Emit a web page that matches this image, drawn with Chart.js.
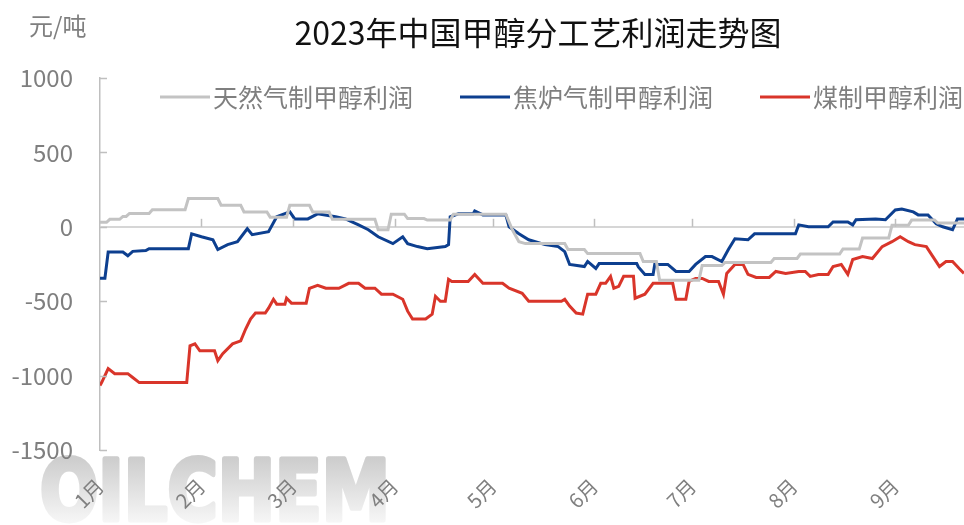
<!DOCTYPE html>
<html>
<head>
<meta charset="utf-8">
<script src="https://cdn.jsdelivr.net/npm/chart.js@4"></script>
<style>
  html, body { margin:0; padding:0; background:#fff; }
  #wrap { width:964px; height:525px; position:relative; }
</style>
</head>
<body>
<div id="wrap"><canvas id="profitChart"></canvas></div>
<script>
const MONTH_LABELS = ['1月','2月','3月','4月','5月','6月','7月','8月','9月'];
const MONTH_STARTS = [0,31,59,90,120,151,181,212,243];   // day index of each month start
const Y_TICKS = [1000,500,0,-500,-1000,-1500];

// 天然气制甲醇利润
const GAS_DAYS = [0,2,3,6,7,8,9,15,16,26,27,36,37,43,44,51,52,57,58,64,65,70,71,84,85,88,89,93,94,99,100,107,108,124,126,128,130,142,143,148,149,165,166,170,171,183,184,190,191,205,206,213,214,226,227,232,233,241,242,247,248,255,256,264];
const GAS_PROFIT = [30,30,50,50,70,70,90,90,115,115,190,190,145,145,100,100,65,65,145,145,100,100,50,50,-20,-20,85,85,55,55,45,45,85,85,-20,-100,-113,-113,-153,-153,-180,-180,-233,-233,-360,-360,-260,-260,-240,-240,-213,-213,-183,-183,-150,-150,-75,-75,10,10,45,45,25,25];

// 焦炉气制甲醇利润
const COKE_DAYS = [0,1.5,2.5,7,8.5,10,14,15,27,28,31,34.5,36,39,42,45,46.5,51.5,54,58,59.5,63.5,66.5,72,75,79,82,85,89.5,92.5,94,97,100,105.5,106.5,107,109.5,114,114.5,117,124,125,128,131,136,140,142,143.5,148,149,151.5,152.5,164,164.5,166.5,169,169.5,173.5,176,180,182,185,187,190,192,194,198,200,212.5,213.5,216.5,222.5,224,228.5,230,231,237,240,243,245,248.5,250,253,255.5,257.5,260.5,262,264];
const COKE_PROFIT = [-345,-345,-170,-170,-195,-165,-160,-147,-147,-47,-67,-87,-153,-120,-100,-13,-53,-33,67,100,53,53,87,67,53,13,-20,-67,-113,-67,-113,-133,-147,-133,-120,67,87,87,107,80,80,0,-47,-87,-120,-133,-167,-253,-267,-233,-280,-247,-247,-270,-320,-320,-253,-253,-300,-300,-253,-200,-200,-233,-153,-80,-87,-47,-47,13,0,0,33,33,13,47,53,47,113,120,100,80,80,20,0,-20,53,53];

// 煤制甲醇利润
const COAL_DAYS = [0,0.5,2.5,4.5,8.5,10,12,26.5,27.5,29,30.5,35,36,37.5,40.5,43,44.5,46,47.5,50.5,51.5,53,54,56.5,57,58.5,63,64,66.5,69,73,76,79,81,84,86,89.5,92.5,94,95.5,99.5,101.5,102.5,104,105.5,106.5,107.5,112.5,114.5,117,123,125,129,131,141,142,143.5,145.5,147.5,149,151.5,153,154.5,156,157,158.5,160,163,163.5,166.5,169,175,176,179,180,182,184,186,189,190.5,191.5,194,196.5,198,200.5,204.5,206.5,209.5,213.5,215.5,217,219.5,222.5,224,226.5,228.5,230,233,236,239,242,244.5,247,249,252.5,254.5,256.5,258.5,260.5,262.5,264];
const COAL_PROFIT = [-1067,-1047,-953,-987,-987,-1013,-1047,-1047,-800,-787,-833,-833,-900,-853,-787,-767,-687,-620,-580,-580,-547,-487,-520,-520,-480,-513,-513,-413,-393,-413,-413,-380,-380,-413,-413,-453,-453,-487,-567,-620,-620,-587,-467,-500,-500,-353,-367,-367,-320,-380,-380,-413,-447,-500,-500,-487,-533,-580,-587,-453,-453,-380,-380,-333,-413,-400,-333,-333,-480,-453,-380,-380,-487,-487,-367,-347,-347,-367,-367,-453,-313,-253,-253,-320,-340,-340,-300,-313,-300,-300,-333,-320,-320,-267,-253,-320,-220,-200,-213,-133,-100,-67,-100,-120,-133,-200,-267,-233,-233,-280,-313];

const toPts = (days, vals) => days.map((d, i) => ({ x: d, y: vals[i] }));

const FONT = '"Noto Sans CJK SC", "Noto Sans", sans-serif';
const grey = '#7f7f7f';

const decor = {
  id: 'decor',
  afterLayout(chart) {
    // title sits centred over the plot, not the whole canvas
    if (chart.titleBlock) chart.titleBlock.left = 112;
  },
  beforeDraw(chart) {
    const ctx = chart.ctx;
    ctx.save();
    const g = ctx.createLinearGradient(0, 458, 0, 522);
    g.addColorStop(0, '#cdcdcd');
    g.addColorStop(1, '#f6f6f6');
    ctx.fillStyle = g;
    ctx.strokeStyle = g;
    ctx.lineWidth = 5;
    ctx.lineJoin = 'round';
    ctx.font = 'bold 84px "DejaVu Sans", sans-serif';
    ctx.textBaseline = 'alphabetic';
    ctx.fillText('OILCHEM', 40, 520, 350);
    ctx.strokeText('OILCHEM', 40, 520, 350);
    ctx.restore();
  },
  afterDraw(chart) {
    const { ctx, chartArea, scales } = chart;
    ctx.save();
    // unit
    ctx.fillStyle = grey;
    ctx.font = '24px ' + FONT;
    ctx.textBaseline = 'middle';
    ctx.textAlign = 'left';
    ctx.fillText('元/吨', 29, 26);

    // inward ticks on y axis, month ticks on zero line
    ctx.strokeStyle = '#bfbfbf';
    ctx.lineWidth = 1.5;
    scales.y.ticks.forEach(t => {
      const py = Math.round(scales.y.getPixelForValue(t.value)) + 0.5;
      ctx.beginPath(); ctx.moveTo(chartArea.left, py); ctx.lineTo(chartArea.left + 7, py); ctx.stroke();
    });
    const zy = scales.y.getPixelForValue(0);
    MONTH_STARTS.slice(1).forEach(v => {
      const px = Math.round(scales.x.getPixelForValue(v)) + 0.5;
      ctx.beginPath(); ctx.moveTo(px, zy - 8); ctx.lineTo(px, zy); ctx.stroke();
    });

    // legend
    const xs = [160, 460, 760];
    ctx.font = '25px ' + FONT;
    chart.data.datasets.forEach((ds, i) => {
      const y = 97;
      ctx.strokeStyle = ds.borderColor;
      ctx.lineWidth = 3;
      ctx.beginPath(); ctx.moveTo(xs[i], y); ctx.lineTo(xs[i] + 50, y); ctx.stroke();
      ctx.fillStyle = grey;
      ctx.fillText(ds.label, xs[i] + 53, y);
    });
    ctx.restore();
  }
};

new Chart(document.getElementById('profitChart'), {
  type: 'line',
  data: { datasets: [
    { label:'天然气制甲醇利润', data:toPts(GAS_DAYS, GAS_PROFIT),   borderColor:'#c3c3c3', borderWidth:3, pointRadius:0, tension:0 },
    { label:'焦炉气制甲醇利润', data:toPts(COKE_DAYS, COKE_PROFIT), borderColor:'#0d3f8f', borderWidth:3, pointRadius:0, tension:0 },
    { label:'煤制甲醇利润',     data:toPts(COAL_DAYS, COAL_PROFIT), borderColor:'#d9352a', borderWidth:3, pointRadius:0, tension:0 }
  ]},
  options: {
    responsive:true, maintainAspectRatio:false, animation:false,
    layout:{ padding:{ left:0, right:0, top:0, bottom:0 } },
    plugins:{
      legend:{ display:false },
      tooltip:{ enabled:false },
      title:{ display:true, text:'2023年中国甲醇分工艺利润走势图', color:'#111',
        font:{ family:FONT, size:32, weight:'normal', lineHeight:1.2 }, padding:{ top:14, bottom:25.6 } }
    },
    scales:{
      x:{ type:'linear', min:0, max:264,
        afterBuildTicks: s => { s.ticks = MONTH_STARTS.map(v => ({ value:v })); },
        afterFit: s => { s.height = 75; },
        grid:{ display:false, drawTicks:false }, border:{ display:false },
        ticks:{ autoSkip:false, minRotation:45, maxRotation:45, padding:24, color:grey,
          font:{ family:FONT, size:20 }, callback:(v, i) => MONTH_LABELS[i] } },
      y:{ min:-1500, max:1000,
        afterBuildTicks: s => { s.ticks = Y_TICKS.map(v => ({ value:v })); },
        afterFit: s => { s.width = 100; },
        grid:{ drawTicks:false, lineWidth:2, color:c => c.tick && c.tick.value === 0 ? '#d6d6d6' : 'rgba(0,0,0,0)' },
        border:{ display:true, color:'#bfbfbf', width:1.5 },
        ticks:{ padding:27, color:grey, font:{ family:FONT, size:24 }, callback:v => String(v) } }
    }
  },
  plugins:[decor]
});
</script>
</body>
</html>
